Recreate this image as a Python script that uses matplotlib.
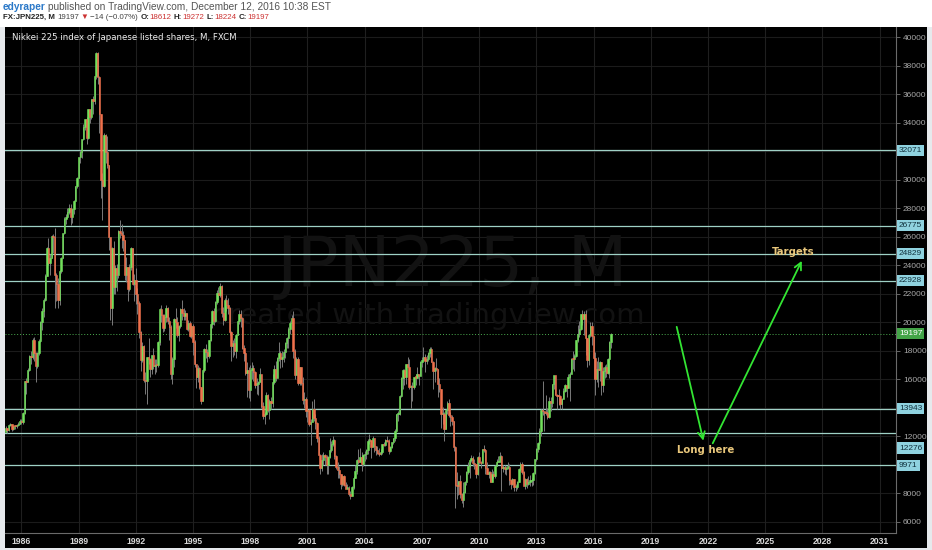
import matplotlib
matplotlib.use("Agg")
import matplotlib.pyplot as plt
from matplotlib.patches import Rectangle
from matplotlib.transforms import blended_transform_factory
import numpy as np

# ---------------- data (monthly FX:JPN225, from Mar 1985) ----------------
START_YEAR, START_MONTH = 1985, 3
FIRST_OPEN = 12300

closes = [
    12580, 12426, 12790, 12882, 12505, 12737, 12700, 12808, 12900, 13113,
    13024, 13640, 15860, 15825, 16675, 17654, 17573, 18787, 17852, 16910, 17853, 18701,
    20048, 20767, 21567, 23275, 25249, 24176, 24488, 26029, 26011, 23329, 22686, 21564,
    23622, 24534, 26260, 27256, 27418, 27769, 28043, 27366, 27924, 28529, 29579, 30159,
    31581, 31986, 32839, 33714, 34267, 32949, 34954, 34431, 35637, 35549, 37269, 38916,
    37189, 34592, 29980, 29585, 33131, 31940, 31036, 25978, 20984, 25194, 22455, 23849,
    23293, 26409, 26292, 26111, 25790, 23291, 23900, 22336, 23916, 25222, 22687, 22984,
    22023, 21339, 19346, 17391, 18348, 15952, 15910, 17555, 17399, 16767, 17684, 16925,
    17024, 17023, 18591, 20919, 20552, 19590, 20380, 21027, 20106, 19704, 16408, 17417,
    20229, 19997, 19112, 19725, 20974, 20644, 20449, 20629, 19564, 19990, 19076, 19723,
    18650, 17053, 16140, 16807, 15437, 14517, 16678, 18117, 17913, 17655, 18744, 19868,
    20813, 20125, 21407, 22041, 21956, 22531, 20693, 20167, 21556, 21197, 21020, 19361,
    18330, 18557, 18003, 19151, 20069, 20605, 20331, 18229, 17888, 16459, 16636, 15259,
    16628, 16832, 16527, 15641, 15671, 15830, 16379, 14108, 13406, 13565, 14883, 13842,
    14499, 14368, 15837, 16701, 16112, 17530, 17862, 17437, 17605, 17942, 18558, 18934,
    19540, 19960, 20337, 17974, 16332, 17411, 15727, 16861, 15747, 14540, 14649, 13786,
    13844, 12884, 12999, 13934, 13262, 12969, 11861, 10714, 9775, 10366, 10697, 10543,
    9998, 10588, 11025, 11493, 11764, 10622, 9878, 9620, 9383, 8640, 9216, 8579,
    8340, 8363, 7973, 7831, 8425, 9083, 9563, 10344, 10219, 10560, 10101, 10677,
    10784, 11042, 11715, 11762, 11236, 11859, 11326, 11082, 10824, 10771, 10899, 11489,
    11388, 11741, 11669, 11009, 11277, 11584, 11900, 12414, 13574, 13607, 14872, 16111,
    16650, 16205, 17060, 16906, 15467, 15505, 15457, 16140, 16128, 16399, 16274, 17226,
    17383, 17604, 17288, 17400, 17876, 18138, 17249, 16569, 16786, 16737, 15681, 15308,
    13592, 13603, 12526, 13850, 14339, 13481, 13377, 13073, 11260, 8577, 8512, 8860,
    7994, 7568, 8110, 8828, 9523, 9958, 10357, 10493, 10133, 10035, 9346, 10546,
    10198, 10126, 11090, 11057, 9769, 9383, 9537, 8824, 9369, 9202, 9937, 10229,
    10238, 10624, 9755, 9850, 9694, 9816, 9833, 8955, 8700, 8988, 8435, 8455,
    8803, 9723, 10084, 9521, 8543, 9007, 8695, 8840, 8870, 8928, 9446, 10395,
    11139, 11559, 12398, 13861, 13775, 13677, 13668, 13389, 14456, 14328, 15662, 16291,
    14915, 14841, 14828, 14304, 14632, 15162, 15621, 15425, 16174, 16414, 17460, 17451,
    17674, 18798, 19207, 19520, 20563, 20236, 20585, 18890, 17388, 19083, 19747, 19034,
    17518, 16027, 16759, 16666, 17235, 15576, 16569, 16887, 16450, 17425, 18612, 19197,
]

highs = [
    12700, 12600, 12850, 12950, 12900, 12800, 12800, 12900, 13000, 13200,
    13200, 13700, 15900, 16100, 16800, 17700, 18000, 18900, 18950, 17900, 17900, 18850,
    20100, 21000, 21700, 23400, 25300, 25900, 24800, 26100, 26200, 26600, 23500, 23100,
    23700, 24600, 26300, 27400, 27600, 28000, 28300, 28300, 28000, 28600, 29600, 30200,
    31600, 32100, 32900, 33900, 34300, 34400, 34960, 35000, 35700, 35900, 37300, 38957,
    38950, 37300, 34600, 30500, 33300, 33200, 33100, 31000, 26000, 25300, 25700, 24000,
    24100, 26500, 27150, 26900, 26400, 25800, 24600, 23900, 24100, 25300, 25100, 23400,
    23800, 22400, 21500, 19400, 18600, 18400, 16500, 17600, 18900, 17500, 17700, 18200,
    17400, 17400, 18700, 21000, 21200, 20600, 20600, 21200, 21100, 20400, 19800, 17600,
    20300, 21000, 20400, 19800, 21000, 21600, 21000, 20900, 20600, 20200, 20100, 19800,
    19900, 18800, 17100, 17000, 16900, 15500, 16700, 18200, 18500, 18100, 18800, 19900,
    20900, 21000, 21500, 22300, 22500, 22750, 22600, 21100, 21700, 21900, 21700, 21100,
    19400, 18800, 18900, 19200, 20100, 20900, 20900, 20400, 18400, 17900, 17200, 16900,
    17000, 17200, 17000, 16600, 16100, 15900, 16800, 16400, 14400, 13700, 15100, 15000,
    14600, 14800, 16400, 17000, 17300, 17600, 18600, 18000, 18000, 18100, 18600, 18950,
    19700, 20100, 20500, 20833, 18100, 17600, 17600, 16900, 16900, 16200, 15100, 14800,
    14200, 13900, 13200, 14500, 14600, 13600, 13000, 12000, 10800, 10800, 10900, 10800,
    10700, 10600, 11900, 11700, 12000, 11800, 10700, 10200, 9900, 9400, 9300, 9300,
    8800, 8700, 8500, 8200, 8500, 9200, 10000, 10400, 11100, 11200, 10900, 10800,
    11000, 11100, 11800, 12200, 11600, 12000, 11900, 11200, 11300, 11200, 11100, 11500,
    11600, 11800, 12000, 11800, 11300, 11600, 11900, 12500, 13600, 13800, 14900, 16200,
    16700, 16700, 17100, 17600, 17400, 15600, 15800, 16200, 16400, 16900, 16400, 17300,
    17600, 18300, 17800, 17700, 17900, 18300, 18300, 17300, 16900, 17500, 16700, 16100,
    15200, 14100, 13700, 13900, 14500, 14600, 13700, 13500, 13100, 11300, 9500, 8900,
    9300, 8000, 8800, 8900, 9600, 10200, 10400, 10700, 10600, 10400, 10000, 10600,
    10900, 10300, 11100, 11400, 11100, 10200, 9600, 9600, 9700, 9600, 10000, 10400,
    10600, 10900, 10700, 10000, 10000, 9900, 10200, 10100, 9000, 9100, 9000, 8700,
    8900, 9800, 10200, 10200, 9600, 9100, 9100, 9200, 9300, 9100, 9500, 10400,
    11200, 11600, 12600, 13900, 15900, 13700, 14900, 14000, 14800, 14800, 15700, 16300,
    16300, 15000, 15300, 14900, 14700, 15400, 15700, 15600, 16400, 16500, 17500, 18000,
    17800, 18800, 19800, 20100, 20600, 20900, 20800, 20900, 18900, 19200, 20000, 20000,
    19000, 17900, 17300, 17600, 17300, 17100, 16900, 17000, 17100, 17500, 18700, 19272,
]

lows = [
    12300, 12250, 12400, 12750, 12400, 12450, 12550, 12600, 12750, 12850,
    12900, 12900, 13600, 15000, 15800, 16600, 17100, 17400, 17300, 15800, 16800, 17700,
    18600, 19500, 20400, 21500, 23300, 24000, 23300, 24500, 24900, 21000, 21500, 21000,
    21200, 23500, 24500, 26200, 26900, 27300, 27600, 26800, 27000, 27600, 28500, 29400,
    30100, 31200, 31500, 32800, 33500, 32500, 32900, 34000, 34300, 34600, 35300, 37100,
    36700, 33300, 28700, 27200, 29500, 31200, 30800, 25100, 20200, 19800, 22000, 22000,
    22200, 23100, 25900, 25200, 25000, 23000, 22800, 21500, 22200, 23700, 22600, 21500,
    21300, 20600, 18900, 16600, 17200, 15800, 15000, 14300, 17100, 16200, 16400, 16700,
    16400, 16500, 16900, 18400, 20000, 19300, 19400, 20000, 19900, 18800, 16000, 15700,
    16900, 19600, 19000, 18700, 19600, 20200, 20200, 20200, 19500, 19400, 19000, 18900,
    17700, 16900, 15400, 15800, 15300, 14300, 14500, 16500, 17500, 17200, 17500, 18700,
    19600, 19800, 20000, 21300, 21600, 21800, 20400, 19800, 20100, 20800, 20600, 19100,
    17300, 17600, 17700, 17500, 19100, 19900, 19700, 18100, 17300, 16300, 14800, 14700,
    14500, 16000, 15900, 15400, 15000, 14900, 15800, 14000, 13200, 12900, 13500, 13700,
    13200, 13900, 14100, 15700, 15900, 16100, 17300, 16800, 16900, 17200, 17500, 18200,
    18200, 19200, 19400, 17500, 16000, 16300, 15600, 15600, 15600, 14300, 14000, 13400,
    13000, 12700, 11400, 13000, 13100, 12500, 11600, 10700, 9400, 9600, 10000, 10000,
    9400, 9400, 10500, 10900, 11300, 10400, 9700, 9100, 9100, 8300, 8500, 8500,
    8300, 8300, 7800, 7600, 7800, 8300, 9300, 9400, 10100, 10200, 9600, 9900,
    10300, 10400, 10800, 11500, 10500, 11300, 10900, 10700, 10800, 10600, 10700, 10800,
    11300, 11300, 11600, 10800, 10900, 11200, 11500, 11700, 12400, 13100, 13500, 14800,
    15300, 15600, 15700, 16900, 15300, 14000, 14500, 15300, 15600, 16100, 15600, 16300,
    16900, 17300, 16500, 17100, 17300, 17600, 17200, 15300, 15800, 16600, 14800, 15100,
    12600, 12900, 11700, 12600, 13600, 13400, 12700, 12800, 11000, 6990, 7600, 7900,
    7700, 7300, 7050, 8000, 8600, 9400, 9100, 10200, 9900, 9700, 9100, 9300,
    10100, 9800, 10200, 10900, 9400, 9400, 9100, 8800, 8800, 9100, 9100, 9900,
    10200, 10200, 8200, 9500, 9400, 9300, 9700, 8600, 8300, 8600, 8200, 8200,
    8300, 8800, 9600, 9400, 8500, 8300, 8400, 8600, 8500, 8500, 8600, 9400,
    10300, 10900, 11400, 12000, 13500, 12400, 13500, 13200, 13300, 13800, 14100, 15300,
    14900, 13900, 14200, 13900, 13900, 14600, 15100, 14800, 15400, 14500, 16400, 16700,
    16600, 17600, 18600, 19000, 19500, 19800, 19100, 17700, 16900, 17000, 19000, 18400,
    16000, 14900, 15800, 15500, 15900, 14900, 15100, 16100, 16200, 16400, 16100, 18224,
]

x_years = list(range(1986, 2032, 3))
y_ticks = [6000, 8000, 12000, 16000, 18000, 20000, 22000, 24000, 26000,
           28000, 30000, 34000, 36000, 38000, 40000]
grid_levels = list(range(6000, 40001, 2000))
levels = [32071, 26775, 24829, 22928, 13943, 12276, 9971]
level_label_y = [32071, 26775, 24829, 22928, 13943, 11190, 9971]
last_price = 19197
arrow_down = ((2020.36, 19690), (2021.76, 11700))
arrow_up = ((2022.25, 11520), (2026.92, 24320))
note_long = ("Long here", 2021.90, 11050)
note_targets = ("Targets", 2026.45, 24950)

# ---------------- figure ----------------
W, H = 932, 550
fig = plt.figure(figsize=(W / 100, H / 100), dpi=100, facecolor="#ffffff")


def fx(p):
    return p / W


def fy(p):
    return 1 - p / H


fig.patches.append(Rectangle((0, 0), 1, fy(27), transform=fig.transFigure,
                             facecolor="#e6e9ec", edgecolor="none", zorder=-3))
fig.patches.append(Rectangle((fx(5), fy(548)), fx(927) - fx(5), fy(27) - fy(548),
                             transform=fig.transFigure, facecolor="#000000",
                             edgecolor="none", zorder=-2))

ax = fig.add_axes([fx(5), fy(533), fx(896) - fx(5), fy(27) - fy(533)])
ax.set_facecolor("#000000")
ax.set_xlim(1985.14, 2031.86)
ax.set_ylim(5228, 40722)

# grid
for yv in grid_levels:
    ax.axhline(yv, color="#1b1b1b", lw=0.8, zorder=0.5)
for xv in x_years:
    ax.axvline(xv, color="#1f1f1f", lw=0.8, zorder=0.5)

# watermark
ax.text(fx(452), fy(267), "JPN225, M", transform=fig.transFigure, fontsize=50,
        color="#121212", ha="center", va="center", zorder=1, family="DejaVu Sans")
ax.text(fx(428), fy(316), "created with tradingview.com", transform=fig.transFigure,
        fontsize=21, color="#121212", ha="center", va="center", zorder=1,
        family="DejaVu Sans")

# candles
n = len(closes)
xs = np.array([START_YEAR + (START_MONTH - 1 + k) / 12.0 for k in range(n)])
c = np.array(closes, dtype=float)
o = np.concatenate([[FIRST_OPEN], c[:-1]])
hi = np.maximum(np.array(highs, dtype=float), np.maximum(o, c))
lo = np.minimum(np.array(lows, dtype=float), np.minimum(o, c))
up = c >= o
ax.vlines(xs, lo, hi, color="#7a7a7a", lw=0.7, zorder=3)
bottoms = np.minimum(o, c)
heights = np.maximum(np.abs(c - o), 80)
ax.bar(xs[up], heights[up], bottom=bottoms[up], width=0.072, color="#72e05c",
       edgecolor="#72e05c", lw=0.4, zorder=4)
ax.bar(xs[~up], heights[~up], bottom=bottoms[~up], width=0.072, color="#f0714c",
       edgecolor="#f0714c", lw=0.4, zorder=4)

# horizontal levels
for lv in levels:
    ax.axhline(lv, color="#9fd1c6", lw=0.9, zorder=2.5)
ax.axhline(last_price, color="#4caf50", lw=0.7, ls=(0, (1, 2)), zorder=2.5)

# right axis level labels
tr = blended_transform_factory(ax.transAxes, ax.transData)
lab_x = 1 + (899 - 896) / (896 - 5)
for lv, ly in zip(levels, level_label_y):
    ax.text(lab_x, ly, f"{lv}", transform=tr, fontsize=6.0, color="#10303c",
            ha="left", va="center", family="Liberation Sans", clip_on=False,
            zorder=6,
            bbox=dict(boxstyle="square,pad=0.25", fc="#8fd2df", ec="none"))
ax.text(lab_x, last_price, f"{last_price}", transform=tr, fontsize=6.0,
        color="#ffffff", ha="left", va="center", family="Liberation Sans",
        clip_on=False, zorder=6,
        bbox=dict(boxstyle="square,pad=0.25", fc="#43a447", ec="none"))

# axes styling
for s in ["top", "left"]:
    ax.spines[s].set_visible(False)
ax.spines["right"].set_color("#6a6a6a")
ax.spines["bottom"].set_color("#6a6a6a")
ax.spines["right"].set_linewidth(0.8)
ax.spines["bottom"].set_linewidth(0.8)
ax.yaxis.tick_right()
ax.set_yticks(y_ticks)
ax.set_yticklabels([str(v) for v in y_ticks], family="Liberation Sans")
ax.tick_params(axis="y", length=3, width=0.6, color="#777777",
               labelcolor="#a8a8a8", labelsize=6.0, pad=2)
ax.set_xticks(x_years)
ax.set_xticklabels([str(v) for v in x_years], family="Liberation Sans",
                   fontweight="bold")
ax.tick_params(axis="x", length=0, labelcolor="#d8d8d8", labelsize=6.2, pad=3.2)

# arrows and notes
arrow_kw = dict(arrowstyle="->,head_length=0.5,head_width=0.25", color="#33e533",
                lw=1.3, shrinkA=0, shrinkB=0)
ax.annotate("", xy=arrow_down[1], xytext=arrow_down[0], arrowprops=arrow_kw, zorder=7)
ax.annotate("", xy=arrow_up[1], xytext=arrow_up[0], arrowprops=arrow_kw, zorder=7)
for txt, xv, yv in [note_long, note_targets]:
    ax.text(xv, yv, txt, color="#e9c77b", fontsize=7.3, fontweight="bold",
            ha="center", va="center", zorder=7, family="DejaVu Sans")

# chart title inside
fig.text(fx(12), fy(38), "Nikkei 225 index of Japanese listed shares, M, FXCM",
         fontsize=6.2, color="#eeeeee", ha="left", va="center", family="DejaVu Sans")

# header
renderer = fig.canvas.get_renderer()


def chain(pieces, x0, ypx, size):
    x = x0
    for txt, color, weight, gap in pieces:
        t = fig.text(fx(x), fy(ypx), txt, color=color, fontweight=weight,
                     fontsize=size, ha="left", va="center",
                     family=["Liberation Sans", "DejaVu Sans"])
        bb = t.get_window_extent(renderer=renderer)
        x += bb.width + gap


chain([("edyraper", "#2a78c8", "bold", 2.4),
       ("published on TradingView.com, December 12, 2016 10:38 EST", "#555555",
        "normal", 0)], 3, 7, 7.3)
red = "#cc3232"
chain([("FX:JPN225, M", "#222222", "bold", 2.2),
       ("19197", "#444444", "normal", 1.8),
       ("\u25bc", red, "normal", 1.8),
       ("\u221214 (\u22120.07%)", "#444444", "normal", 2.2),
       ("O:", "#222222", "bold", 0.3), ("18612", red, "normal", 2.2),
       ("H:", "#222222", "bold", 0.3), ("19272", red, "normal", 2.2),
       ("L:", "#222222", "bold", 0.3), ("18224", red, "normal", 2.2),
       ("C:", "#222222", "bold", 0.3), ("19197", red, "normal", 0)], 3, 17.5, 5.7)

fig.savefig("out.png", dpi=100, facecolor=fig.get_facecolor())
